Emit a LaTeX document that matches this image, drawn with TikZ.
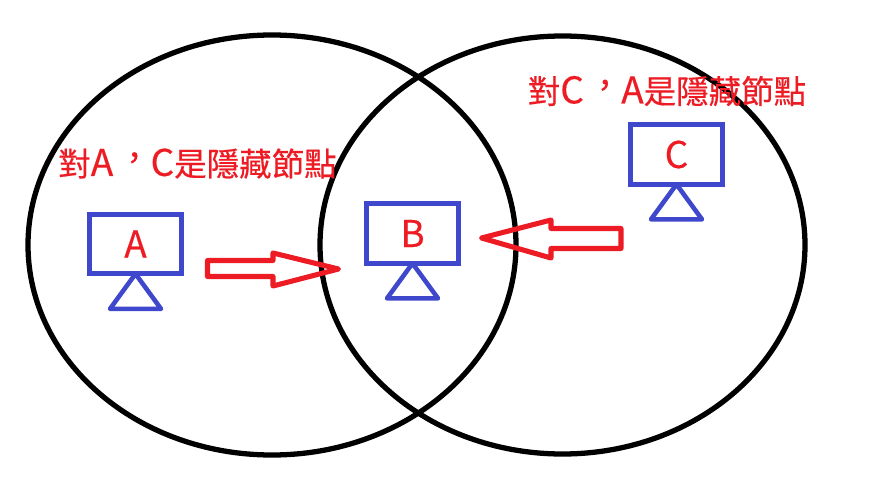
\documentclass[tikz,border=0pt]{standalone}
\usepackage{fontspec}
\newfontfamily\cjk[Script=CJK,Language=Chinese Traditional,FakeBold=0.4]{Noto Sans CJK TC}
\newcommand{\bigltr}[1]{{\fontsize{21}{21}\selectfont #1}}
\newcommand{\midcomma}{\hspace*{.15em}\raisebox{.2em}{，}}
\definecolor{monblue}{RGB}{63,72,204}
\definecolor{tagred}{RGB}{237,28,36}
\tikzset{
  every node/.style={inner sep=0pt,outer sep=0pt},
  ring/.style={draw=black,line width=3pt},
  monitor/.style={draw=monblue,line width=2.9pt,minimum width=52.2pt,minimum height=34pt,text=tagred,font=\cjk\fontsize{21}{21}\selectfont},
  stand/.style={draw=monblue,line width=2.6pt,line join=round},
  push/.style={draw=tagred,line width=2.9pt,line join=round},
  tag/.style={text=tagred,font=\cjk\fontsize{18.5}{18.5}\selectfont}
}
\begin{document}
\begin{tikzpicture}[x=0.02cm,y=-0.02cm]
  \useasboundingbox (0,0) rectangle (877,497);
  \draw[ring] (272,245) ellipse [x radius=244,y radius=210];
  \draw[ring] (562.5,245) ellipse [x radius=242.5,y radius=209];
  \node[monitor] (monA) at (135.5,244) {A};
  \node[monitor] (monB) at (412.5,233.5) {B};
  \node[monitor] (monC) at (676.5,154.5) {C};
  \draw[stand] (monA.south) -- ++(25.5,35) -- ++(-51,0) -- cycle;
  \draw[stand] (monB.south) -- ++(25.5,35) -- ++(-51,0) -- cycle;
  \draw[stand] (monC.south) -- ++(25.5,35) -- ++(-51,0) -- cycle;
  \draw[push] (207.5,260.5) -- (273,260.5) -- (273,253) -- (338.5,269) -- (273,286) -- (273,276.5) -- (207.5,276.5) -- cycle;
  \draw[push] (621,228.5) -- (551,228.5) -- (551,220) -- (481.5,238) -- (551,258) -- (551,248.5) -- (621,248.5) -- cycle;
  \node[tag] (tagA) at (197.5,163.5) {對\bigltr{A}\midcomma\bigltr{C}是隱藏節點};
  \node[tag] (tagC) at (667,91) {對\bigltr{C}\midcomma\bigltr{A}是隱藏節點};
\end{tikzpicture}
\end{document}
